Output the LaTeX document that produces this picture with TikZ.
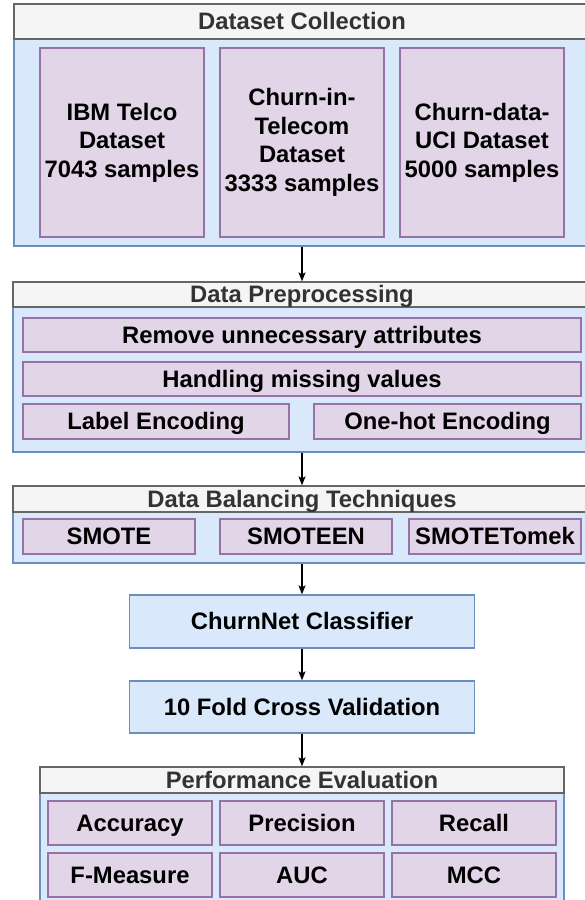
\documentclass[tikz,border=0pt]{standalone}
\usepackage{fontspec}
\setmainfont{Liberation Sans}
\usetikzlibrary{arrows.meta}
\definecolor{hdrfill}{HTML}{F5F5F5}
\definecolor{hdrline}{HTML}{666666}
\definecolor{hdrtext}{HTML}{333333}
\definecolor{bluefill}{HTML}{DAE8FC}
\definecolor{blueline}{HTML}{6C8EBF}
\definecolor{purpfill}{HTML}{E1D5E7}
\definecolor{purpline}{HTML}{9673A6}
\begin{document}
\begin{tikzpicture}[x=1bp,y=-1bp,
  txt/.style={font=\fontsize{23.8bp}{28.5bp}\selectfont\bfseries, inner sep=0pt, align=center},
  oneline/.style={text height=19bp, text depth=2.5bp},
  hdr/.style={txt, oneline, draw=hdrline, fill=hdrfill, text=hdrtext, line width=1.3bp},
  body/.style={draw=blueline, fill=bluefill, line width=1.3bp, inner sep=0pt},
  item/.style={txt, draw=purpline, fill=purpfill, text=black, line width=1.3bp},
  sitem/.style={item, oneline},
  stage/.style={txt, oneline, draw=blueline, fill=bluefill, text=black, line width=1.3bp},
  flow/.style={line width=1.3bp, -{Stealth[length=9bp,width=7bp,inset=2bp]}}
]
\useasboundingbox (0,0) rectangle (585,900);
\fill[white] (0,0) rectangle (585,900);
\clip (0,0) rectangle (585,900);

% Dataset Collection
\node[body, minimum width=576bp, minimum height=207bp] (b1) at (302,142.5) {};
\node[hdr, minimum width=576bp, minimum height=35bp] (h1) at (302,21.5) {Dataset Collection};
\node[item, minimum width=164bp, minimum height=189bp] (ibm) at (122,142.5) {IBM Telco\\Dataset\\7043 samples};
\node[item, minimum width=164bp, minimum height=189bp] (cit) at (302,142.5) {Churn-in-\\Telecom\\Dataset\\3333 samples};
\node[item, minimum width=164bp, minimum height=189bp] (uci) at (482,142.5) {Churn-data-\\UCI Dataset\\5000 samples};

% Data Preprocessing
\node[body, minimum width=578bp, minimum height=145bp] (b2) at (302,379.5) {};
\node[hdr, minimum width=578bp, minimum height=25bp] (h2) at (302,294.5) {Data Preprocessing};
\node[sitem, minimum width=558bp, minimum height=34bp] (rem) at (302,335) {Remove unnecessary attributes};
\node[sitem, minimum width=558bp, minimum height=34bp] (miss) at (302,379) {Handling missing values};
\node[sitem, minimum width=266bp, minimum height=35bp] (lab) at (156,421.5) {Label Encoding};
\node[sitem, minimum width=267bp, minimum height=35bp] (one) at (447.5,421.5) {One-hot Encoding};

% Data Balancing Techniques
\node[body, minimum width=578bp, minimum height=51bp] (b3) at (302,537.5) {};
\node[hdr, minimum width=578bp, minimum height=26bp] (h3) at (302,499) {Data Balancing Techniques};
\node[sitem, minimum width=172bp, minimum height=35bp] (sm) at (109,536.5) {SMOTE};
\node[sitem, minimum width=172bp, minimum height=35bp] (smen) at (306,536.5) {SMOTEEN};
\node[sitem, minimum width=172bp, minimum height=35bp] (smtk) at (495,536.5) {SMOTETomek};

% Classifier and validation
\node[stage, minimum width=345bp, minimum height=53bp] (cls) at (302,621.5) {ChurnNet Classifier};
\node[stage, minimum width=345bp, minimum height=52bp] (cv) at (302,707) {10 Fold Cross Validation};

% Performance Evaluation
\node[body, minimum width=524bp, minimum height=112bp] (b5) at (302,849) {};
\node[hdr, minimum width=524bp, minimum height=26bp] (h5) at (302,780) {Performance Evaluation};
\node[sitem, minimum width=164bp, minimum height=44bp] (acc) at (130,823) {Accuracy};
\node[sitem, minimum width=164bp, minimum height=44bp] (pre) at (302,823) {Precision};
\node[sitem, minimum width=164bp, minimum height=44bp] (rec) at (474,823) {Recall};
\node[sitem, minimum width=164bp, minimum height=44bp] (fm) at (130,875) {F-Measure};
\node[sitem, minimum width=164bp, minimum height=44bp] (auc) at (302,875) {AUC};
\node[sitem, minimum width=164bp, minimum height=44bp] (mcc) at (474,875) {MCC};

% Connectors
\draw[flow] (b1.south) -- (h2.north);
\draw[flow] (b2.south) -- (h3.north);
\draw[flow] (b3.south) -- (cls.north);
\draw[flow] (cls.south) -- (cv.north);
\draw[flow] (cv.south) -- (h5.north);
\end{tikzpicture}
\end{document}
